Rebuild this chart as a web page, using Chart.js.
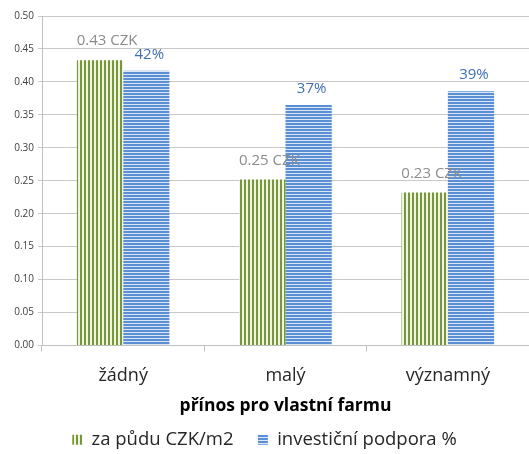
<!DOCTYPE html>
<html><head><meta charset="utf-8">
<script src="https://cdn.jsdelivr.net/npm/chart.js@4"></script>
<style>html,body{margin:0;padding:0;background:#fff;}#w{width:529px;height:454px;}</style>
</head><body><div id="w"><canvas id="c" width="529" height="454"></canvas></div>
<script>
const categories = ['žádný', 'malý', 'významný'];
const landPrice = [0.433, 0.252, 0.232];
const investSupport = [0.417, 0.365, 0.386];
const landLabels = ['0.43 CZK', '0.25 CZK', '0.23 CZK'];
const investLabels = ['42%', '37%', '39%'];
const seriesNames = ['za půdu CZK/m2', 'investiční podpora %'];
const axisTitle = 'přínos pro vlastní farmu';

function makePattern(vertical, dark, light, period, darkW) {
  const p = document.createElement('canvas');
  p.width = vertical ? period : 1;
  p.height = vertical ? 1 : period;
  const g = p.getContext('2d');
  g.fillStyle = light; g.fillRect(0, 0, p.width, p.height);
  g.fillStyle = dark;
  if (vertical) g.fillRect(0, 0, darkW, 1); else g.fillRect(0, 0, 1, darkW);
  return document.getElementById('c').getContext('2d').createPattern(p, 'repeat');
}
const greenPat = makePattern(true, '#77973a', '#eef3e2', 4, 2);
const bluePat = makePattern(false, '#5a8fd6', '#dbe6f5', 3, 2);

const labelPlugin = {
  id: 'barLabels',
  afterDatasetsDraw(chart) {
    const ctx = chart.ctx;
    ctx.save();
    ctx.font = '15px "Open Sans", sans-serif';
    ctx.textAlign = 'center';
    ctx.textBaseline = 'middle';
    const sets = [[0, landLabels, '#8c8c8c', 7, 19], [1, investLabels, '#3f6fb5', 3, 16]];
    sets.forEach(([di, labels, color, dx, dy]) => {
      chart.getDatasetMeta(di).data.forEach((bar, i) => {
        ctx.fillStyle = color;
        ctx.fillText(labels[i], bar.x + dx, bar.y - dy);
      });
    });
    ctx.restore();
  }
};

new Chart(document.getElementById('c'), {
  type: 'bar',
  data: {
    labels: categories,
    datasets: [
      { label: seriesNames[0], data: landPrice, backgroundColor: greenPat, borderWidth: 0 },
      { label: seriesNames[1], data: investSupport, backgroundColor: bluePat, borderWidth: 0 }
    ]
  },
  options: {
    responsive: false,
    animation: false,
    layout: { padding: { top: 16, right: 0, left: 0, bottom: -5 } },
    categoryPercentage: 0.57,
    barPercentage: 1.0,
    plugins: {
      tooltip: { enabled: false },
      legend: {
        position: 'bottom',
        labels: {
          boxWidth: 10, boxHeight: 10, padding: 10,
          color: '#262626',
          font: { size: 18.5, family: '"Open Sans", sans-serif' },
          generateLabels(chart) {
            const items = Chart.defaults.plugins.legend.labels.generateLabels(chart);
            if (items.length) items[0].text = items[0].text + '   ';
            return items;
          }
        }
      }
    },
    scales: {
      x: {
        afterFit(s) { s.height = 75; },
        grid: { offset: true, drawOnChartArea: false, tickLength: 6, color: '#bfbfbf', lineWidth: 1 },
        border: { color: '#bfbfbf' },
        ticks: { padding: 14, color: '#262626', font: { size: 18, family: '"Open Sans", sans-serif' } },
        title: { display: true, text: axisTitle, color: '#000', padding: { top: 0, bottom: 3.5 },
          font: { size: 17.5, weight: 'bold', family: '"Open Sans", sans-serif' } }
      },
      y: {
        min: 0, max: 0.5,
        afterFit(s) { s.width = 42; },
        grid: { color: '#c8c8c8', lineWidth: 1, tickLength: 4 },
        border: { color: '#bfbfbf' },
        ticks: { stepSize: 0.05, padding: 4, color: '#404040',
          font: { size: 10, family: '"Open Sans", sans-serif' },
          callback: v => Number(v).toFixed(2) }
      }
    }
  },
  plugins: [labelPlugin]
});
</script></body></html>
